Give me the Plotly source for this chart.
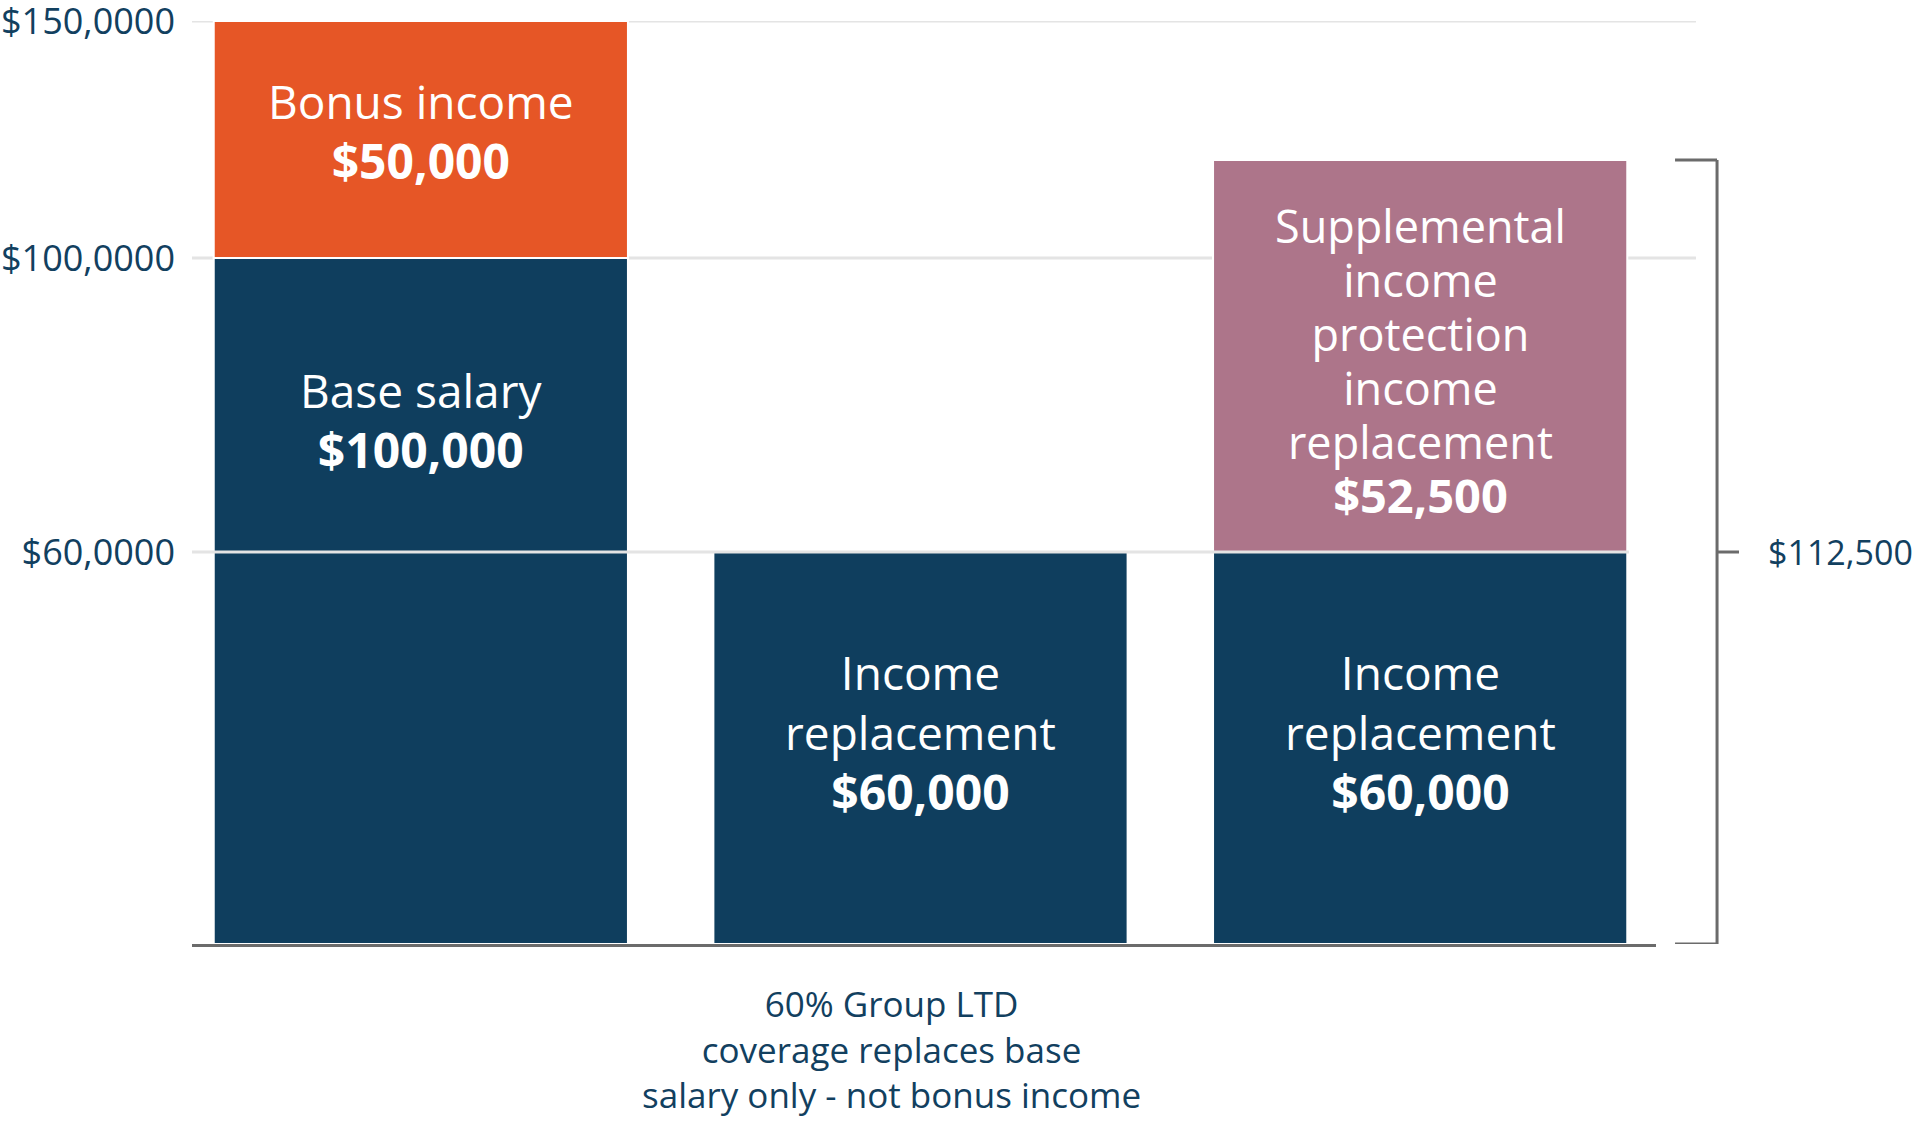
import numpy as np
import plotly.graph_objects as go

# ---------------- data ----------------
CATEGORIES = ["Current income", "Group LTD only", "Group LTD + supplemental"]
BASE_SALARY = 100000
BONUS_INCOME = 50000
LTD_REPLACEMENT = 60000          # 60% of base salary
SUPPLEMENTAL = 52500
TOTAL_PROTECTED = LTD_REPLACEMENT + SUPPLEMENTAL   # 112,500

TICK_VALUES = [60000, 100000, 150000]
TICK_LABELS = ["$60,0000", "$100,0000", "$150,0000"]
TOTAL_LABEL = "$112,500"

# segments: (category index, bottom value, top value, colour, label lines)
SEGMENTS = [
    (0, 0, BASE_SALARY, "#0f3e5e", ["Base salary", "$100,000"]),
    (0, BASE_SALARY, BASE_SALARY + BONUS_INCOME, "#e65626", ["Bonus income", "$50,000"]),
    (1, 0, LTD_REPLACEMENT, "#0f3e5e", ["Income", "replacement", "$60,000"]),
    (2, 0, LTD_REPLACEMENT, "#0f3e5e", ["Income", "replacement", "$60,000"]),
    (2, LTD_REPLACEMENT, TOTAL_PROTECTED, "#ad758a",
     ["Supplemental", "income", "protection", "income", "replacement", "$52,500"]),
]

# ---------------- pictorial (piecewise) value scale ----------------
SCALE_VALUES = [0, 60000, 100000, 112500, 150000]
SCALE_UNITS = [0, 392, 686, 784, 923]


def f(v):
    return float(np.interp(v, SCALE_VALUES, SCALE_UNITS))


NAVY_TEXT = "#12405f"
GRID = "#e4e4e4"
DARK_LINE = "#6b6b6b"
FONT = "Open Sans"

fig = go.Figure()
for ci, lo, hi, col, _ in SEGMENTS:
    fig.add_trace(go.Bar(
        x=[CATEGORIES[ci]], y=[f(hi) - f(lo)], base=[f(lo)],
        marker=dict(color=col, line=dict(width=2, color="white")), width=0.829,
        hoverinfo="skip",
    ))

# label layout: (anchor range low, anchor range high, y shift px, base font, line font, bold font)
LABEL_LAYOUT = {
    0: (60000, 100000, -15, 46, 46, 48),
    1: (100000, 150000, 8, 46, 46, 48),
    2: (0, 60000, 16, 46, 46, 48),
    3: (0, 60000, 16, 46, 46, 48),
    4: (60000, 112500, -5, 41.5, 45, 47),
}
annotations = []
for i, (ci, lo, hi, col, lines) in enumerate(SEGMENTS):
    a_lo, a_hi, sh, base_size, line_size, bold_size = LABEL_LAYOUT[i]
    yc = (f(a_lo) + f(a_hi)) / 2
    parts = []
    for line in lines:
        if line.startswith("$"):
            parts.append(f"<span style='font-size:{bold_size}px'><b>{line}</b></span>")
        else:
            parts.append(f"<span style='font-size:{line_size}px'>{line}</span>")
    annotations.append(dict(
        x=CATEGORIES[ci], y=yc, xref="x", yref="y", yshift=sh,
        text="<br>".join(parts), showarrow=False, xanchor="center", yanchor="middle",
        align="center",
        font=dict(family=FONT, size=base_size, color="white"),
    ))

# right bracket label
mid = f(TOTAL_PROTECTED) / 2
annotations.append(dict(
    x=1.0751, y=mid, xref="paper", yref="y", text=TOTAL_LABEL, showarrow=False,
    xanchor="left", yanchor="middle",
    font=dict(family=FONT, size=34, color=NAVY_TEXT),
))
# bottom caption
annotations.append(dict(
    x=0.4775, y=-0.1138, xref="paper", yref="paper",
    text="60% Group LTD<br>coverage replaces base<br>salary only - not bonus income",
    showarrow=False, xanchor="center", yanchor="middle", align="center",
    font=dict(family=FONT, size=35, color=NAVY_TEXT),
))

shapes = []
GRID_STYLE = {60000: (0.9815, "above"), 100000: (1.0273, "below"), 150000: (1.0273, "below")}
for v in TICK_VALUES:
    x1, layer = GRID_STYLE[v]
    shapes.append(dict(type="line", xref="paper", yref="y", x0=0, x1=x1,
                       y0=f(v), y1=f(v), line=dict(color=GRID, width=3), layer=layer))
# bracket
bx, bl, br = 1.0417, 1.0130, 1.0567
top = f(TOTAL_PROTECTED)
shapes += [
    dict(type="line", xref="paper", yref="y", x0=bx, x1=bx, y0=f(0), y1=top,
         line=dict(color=DARK_LINE, width=3)),
    dict(type="line", xref="paper", yref="y", x0=bl, x1=bx, y0=top, y1=top,
         line=dict(color=DARK_LINE, width=3)),
    dict(type="line", xref="paper", yref="y", x0=bl, x1=bx, y0=f(0), y1=f(0),
         line=dict(color=DARK_LINE, width=3)),
    dict(type="line", xref="paper", yref="y", x0=bx, x1=br, y0=mid, y1=mid,
         line=dict(color=DARK_LINE, width=3)),
]

fig.update_layout(
    width=1920, height=1133,
    margin=dict(l=192, r=264, t=21, b=189, pad=0, autoexpand=False),
    plot_bgcolor="white", paper_bgcolor="white",
    barmode="overlay", showlegend=False,
    xaxis=dict(type="category", categoryarray=CATEGORIES, range=[-0.458, 2.472],
               showticklabels=False, showgrid=False, zeroline=False, automargin=False,
               showline=True, linecolor=DARK_LINE, linewidth=3, ticks=""),
    yaxis=dict(range=[0, 923], tickvals=[f(v) for v in TICK_VALUES], ticktext=TICK_LABELS,
               showgrid=False, zeroline=False, showline=False, ticks="", automargin=False,
               ticklabelstandoff=16, ticklabeloverflow="allow",
               tickfont=dict(family=FONT, size=36, color=NAVY_TEXT)),
    annotations=annotations, shapes=shapes,
)

fig.write_html(
    "out.html",
    config={"displayModeBar": False},
    post_script="document.body.style.margin='0';document.body.style.overflow='hidden';",
)
